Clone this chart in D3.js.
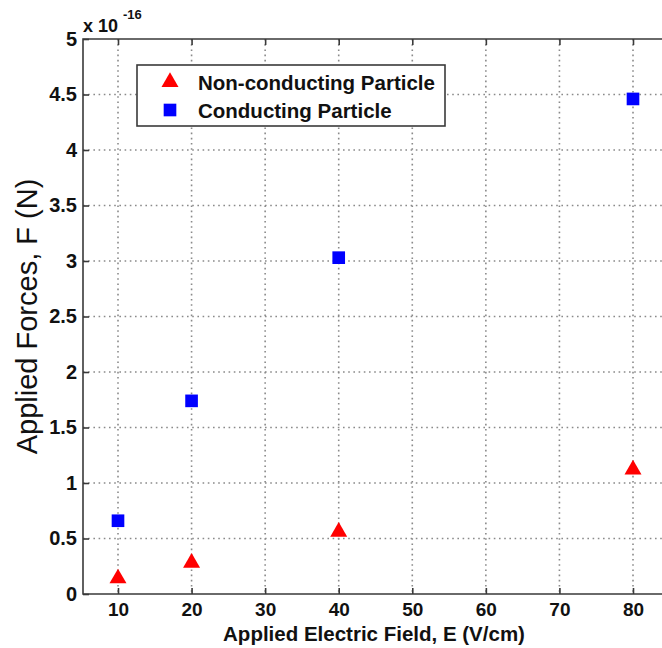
<!DOCTYPE html>
<html>
<head>
<meta charset="utf-8">
<script src="https://cdn.jsdelivr.net/npm/d3@7"></script>
<style>
  html, body { margin: 0; padding: 0; background: #fff; }
  svg { display: block; }
  text { font-family: "Liberation Sans", Arial, sans-serif; }
</style>
</head>
<body>
<svg id="chart" width="662" height="648"></svg>
<script>
// Applied electric field (V/cm)
const fields = [10, 20, 40, 80];
// Force in units of 1e-16 N
const nonConducting = [0.14, 0.28, 0.56, 1.12];
const conducting = [0.66, 1.74, 3.03, 4.46];
const xTicks = [10, 20, 30, 40, 50, 60, 70, 80];
const yTicks = [0, 0.5, 1, 1.5, 2, 2.5, 3, 3.5, 4, 4.5, 5];
const seriesNames = ["Non-conducting Particle", "Conducting Particle"];

(function drawChart() {
  const svg = d3.select("#chart");
  const W = 662;
  const plotLeft = 83, plotTop = 39, plotBottom = 594;

  const x = d3.scaleLinear().domain([10, 80]).range([118, 633]);
  const y = d3.scaleLinear().domain([0, 5]).range([plotBottom, plotTop]);

  const axisColor = "#3a3a3a";
  const gridColor = "#8a8a8a";
  const font = "Liberation Sans, Arial, sans-serif";

  // dotted grid
  const grid = svg.append("g");
  grid.selectAll("line.vg").data(xTicks).join("line")
    .attr("class", "vg")
    .attr("x1", d => x(d)).attr("x2", d => x(d))
    .attr("y1", plotTop).attr("y2", plotBottom)
    .attr("stroke", gridColor).attr("stroke-width", 1.6)
    .attr("stroke-dasharray", "1.6,3.6");
  grid.selectAll("line.hg").data(yTicks.filter(d => d > 0 && d < 5)).join("line")
    .attr("class", "hg")
    .attr("x1", plotLeft).attr("x2", W)
    .attr("y1", d => y(d)).attr("y2", d => y(d))
    .attr("stroke", gridColor).attr("stroke-width", 1.6)
    .attr("stroke-dasharray", "1.6,3.6");

  // axes: ticks point inward
  const xAxis = d3.axisBottom(x).tickValues(xTicks).tickSize(-6).tickPadding(9);
  const gx = svg.append("g").attr("transform", `translate(0,${plotBottom})`).call(xAxis);
  gx.select(".domain").remove();
  gx.selectAll(".tick line").attr("stroke", axisColor).attr("stroke-width", 1.6);
  gx.selectAll(".tick text").attr("font-size", 19).attr("font-weight", "bold")
    .attr("fill", "#111").attr("font-family", font);

  const xTop = d3.axisTop(x).tickValues(xTicks).tickSize(-6).tickFormat("");
  const gxt = svg.append("g").attr("transform", `translate(0,${plotTop})`).call(xTop);
  gxt.select(".domain").remove();
  gxt.selectAll(".tick line").attr("stroke", axisColor).attr("stroke-width", 1.6);

  const yAxis = d3.axisLeft(y).tickValues(yTicks).tickSize(-6).tickPadding(6)
    .tickFormat(d => d3.format("~g")(d));
  const gy = svg.append("g").attr("transform", `translate(${plotLeft},0)`).call(yAxis);
  gy.select(".domain").remove();
  gy.selectAll(".tick line").attr("stroke", axisColor).attr("stroke-width", 1.6);
  gy.selectAll(".tick text").attr("font-size", 20).attr("font-weight", "bold")
    .attr("fill", "#111").attr("font-family", font);

  // spines (left, top, bottom)
  svg.append("path")
    .attr("d", `M${W},${plotTop}H${plotLeft}V${plotBottom}H${W}`)
    .attr("fill", "none").attr("stroke", axisColor).attr("stroke-width", 1.6);

  // exponent label
  svg.append("text").attr("x", 83).attr("y", 32)
    .attr("font-size", 18).attr("font-weight", "bold").attr("fill", "#111")
    .text("x 10");
  svg.append("text").attr("x", 123).attr("y", 18.5)
    .attr("font-size", 13).attr("font-weight", "bold").attr("fill", "#111")
    .text("-16");

  // axis titles
  svg.append("text").attr("x", 374).attr("y", 641).attr("text-anchor", "middle")
    .attr("font-size", 20.5).attr("font-weight", "bold").attr("fill", "#111")
    .text("Applied Electric Field, E (V/cm)");
  svg.append("text").attr("transform", `translate(37,${(plotTop + plotBottom) / 2}) rotate(-90)`)
    .attr("text-anchor", "middle").attr("font-size", 29).attr("fill", "#111")
    .text("Applied Forces, F (N)");

  // markers
  const tri = d3.symbol().type(d3.symbolTriangle).size(125);
  const sq = d3.symbol().type(d3.symbolSquare).size(160);

  svg.append("g").selectAll("path").data(fields.map((f, i) => [f, nonConducting[i]])).join("path")
    .attr("d", tri)
    .attr("transform", d => `translate(${x(d[0])},${y(d[1])})`)
    .attr("fill", "#ff0000");

  svg.append("g").selectAll("path").data(fields.map((f, i) => [f, conducting[i]])).join("path")
    .attr("d", sq)
    .attr("transform", d => `translate(${x(d[0])},${y(d[1])})`)
    .attr("fill", "#0000ff");

  // legend
  const lg = svg.append("g");
  lg.append("rect").attr("x", 137).attr("y", 65).attr("width", 308).attr("height", 61)
    .attr("fill", "#fff").attr("stroke", axisColor).attr("stroke-width", 1.6);
  lg.append("path").attr("d", tri).attr("transform", "translate(170,82)").attr("fill", "#ff0000");
  lg.append("path").attr("d", sq).attr("transform", "translate(170,110)").attr("fill", "#0000ff");
  lg.selectAll("text").data(seriesNames).join("text")
    .attr("x", 198).attr("y", (d, i) => 89.5 + i * 28)
    .attr("font-size", 20.5).attr("font-weight", "bold").attr("fill", "#111")
    .text(d => d);
})();
</script>
</body>
</html>
